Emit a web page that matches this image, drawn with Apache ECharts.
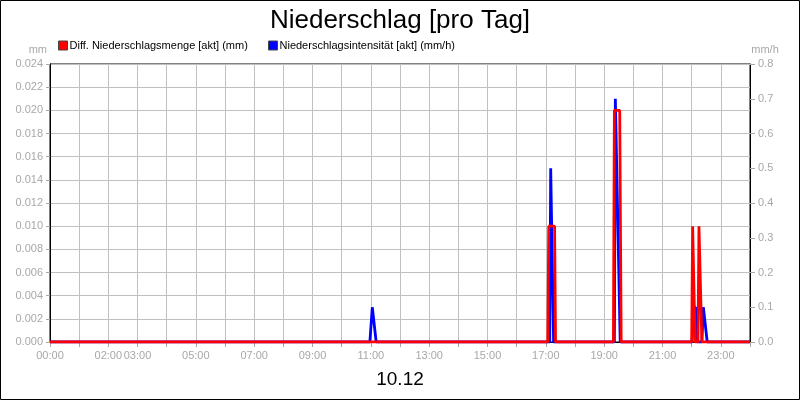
<!DOCTYPE html>
<html>
<head>
<meta charset="utf-8">
<script src="https://cdn.jsdelivr.net/npm/echarts@6/dist/echarts.min.js"></script>
<style>
html,body{margin:0;padding:0;background:#fff;}
#chart{width:800px;height:400px;}
</style>
</head>
<body>
<div id="chart"></div>
<script>
// ---- data ----
const titleText = 'Niederschlag [pro Tag]';
const dateLabel = '10.12';
const mengeName = 'Diff. Niederschlagsmenge [akt] (mm)';
const intensName = 'Niederschlagsintensität [akt] (mm/h)';
const xTickLabels = ['00:00','02:00','03:00','05:00','07:00','09:00','11:00','13:00','15:00','17:00','19:00','21:00','23:00'];

const mengeTimes  = ['00:00','17:04','17:06','17:18','17:20','19:19','19:21','19:32','19:35','22:00','22:02','22:05','22:07','22:13','22:15','22:19','22:21','24:00'];
const mengeValues = [0,0,0.01,0.01,0,0,0.02,0.02,0,0,0.01,0.01,0,0,0.01,0.01,0,0];

const intensTimes  = ['00:00','10:58','11:03','11:05','11:11','17:08','17:10','17:11','17:16','19:21','19:23','19:27','19:33','22:01','22:03','22:08','22:12','22:21','22:24','22:28','22:32','24:00'];
const intensValues = [0,0,0.1,0.1,0,0,0.5,0.5,0,0,0.7,0.7,0,0,0.1,0.1,0,0,0.1,0.1,0,0];

// ---- helpers ----
function toMin(t){ const p=t.split(':'); return (+p[0])*60+(+p[1]); }
function pad(n){ return (n<10?'0':'')+n; }
const mengeData = mengeTimes.map((t,i)=>[toMin(t), mengeValues[i]]);
const intensData = intensTimes.map((t,i)=>[toMin(t), intensValues[i]]);

const FONT = 'Liberation Sans, Arial, sans-serif';
const GREY = '#a8a8a8';

const chart = echarts.init(document.getElementById('chart'), null, {renderer:'canvas'});
chart.setOption({
  animation:false,
  backgroundColor:'#fff',
  textStyle:{fontFamily:FONT},
  title:{
    text:titleText, left:'center', top:3,
    textStyle:{fontSize:26, fontWeight:'normal', color:'#000', fontFamily:FONT}
  },
  legend:[
    {data:[mengeName], left:58, top:40, padding:0, itemWidth:9, itemHeight:9, itemGap:0,
     icon:'rect', textStyle:{fontSize:11, color:'#000', fontFamily:FONT, padding:[0,0,0,-3]},
     itemStyle:{color:'#ff0000', borderColor:'#444', borderWidth:1}},
    {data:[intensName], left:268, top:40, padding:0, itemWidth:9, itemHeight:9, itemGap:0,
     icon:'rect', textStyle:{fontSize:11, color:'#000', fontFamily:FONT, padding:[0,0,0,-3]},
     itemStyle:{color:'#0000ff', borderColor:'#444', borderWidth:1}}
  ],
  graphic:[
    {type:'rect', shape:{x:0.5,y:0.5,width:799,height:399}, style:{fill:'none', stroke:'#000', lineWidth:1}, z:100}
  ],
  grid:{left:50, right:50, top:64, bottom:58, show:true, borderColor:'#000', borderWidth:1, backgroundColor:'transparent'},
  xAxis:{
    type:'value', min:0, max:1440, interval:60,
    name:dateLabel, nameLocation:'middle', nameGap:28,
    nameTextStyle:{fontSize:19, color:'#000', fontFamily:FONT},
    axisLine:{show:true, lineStyle:{color:'#000'}},
    axisTick:{show:true, length:5, lineStyle:{color:GREY}},
    axisLabel:{
      margin:8, fontSize:11, color:GREY, fontFamily:FONT, showMaxLabel:true, showMinLabel:true,
      formatter:function(v){ const l = pad(Math.round(v/60))+':00'; return xTickLabels.indexOf(l)>=0 ? l : ''; }
    },
    splitLine:{show:true, lineStyle:{color:'#c0c0c0', width:1}}
  },
  yAxis:[
    {
      type:'value', min:0, max:0.024, interval:0.002, position:'left',
      name:'mm', nameLocation:'end', nameGap:9,
      nameTextStyle:{fontSize:11, color:GREY, fontFamily:FONT, align:'right', padding:[0,3,0,0]},
      axisLine:{show:true, lineStyle:{color:'#000'}},
      axisTick:{show:true, length:4, lineStyle:{color:GREY}},
      axisLabel:{margin:7, fontSize:11, color:GREY, fontFamily:FONT, formatter:v=>v.toFixed(3)},
      splitLine:{show:true, lineStyle:{color:'#c0c0c0', width:1}}
    },
    {
      type:'value', min:0, max:0.8, interval:0.1, position:'right',
      name:'mm/h', nameLocation:'end', nameGap:9,
      nameTextStyle:{fontSize:11, color:GREY, fontFamily:FONT, align:'center', padding:[0,0,0,30]},
      axisLine:{show:true, lineStyle:{color:'#000'}},
      axisTick:{show:true, length:5, lineStyle:{color:GREY}},
      axisLabel:{margin:8, fontSize:11, color:GREY, fontFamily:FONT, formatter:v=>v.toFixed(1)},
      splitLine:{show:false}
    }
  ],
  series:[
    {name:intensName, type:'line', yAxisIndex:1, data:intensData, symbol:'none',
     lineStyle:{color:'#0000ff', width:2.8}, itemStyle:{color:'#0000ff'}, z:3},
    {name:mengeName, type:'line', yAxisIndex:0, data:mengeData, symbol:'none',
     lineStyle:{color:'#ff0000', width:2.8}, itemStyle:{color:'#ff0000'}, z:4}
  ]
});
</script>
</body>
</html>
